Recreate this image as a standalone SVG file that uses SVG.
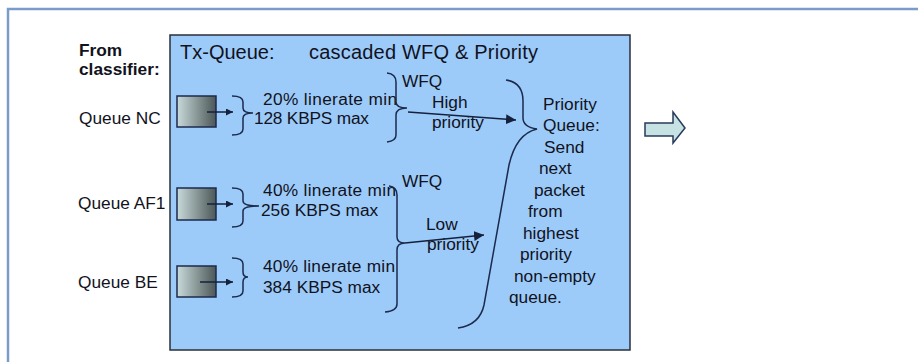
<svg xmlns="http://www.w3.org/2000/svg" width="918" height="362" viewBox="0 0 918 362">
<style>
text{font-family:"Liberation Sans",Arial,sans-serif;font-size:17.3px;fill:#12121c}
.title{font-size:20px}
.bold{font-weight:bold}
.br{fill:none;stroke:#1c2a4c;stroke-width:1.5}
.qbox{fill:url(#qg);stroke:#1c2a4c;stroke-width:1.5}
.ar{stroke:#15203c;stroke-width:1.5;fill:none}
</style>
<defs>
<linearGradient id="qg" x1="0" y1="0" x2="1" y2="0">
<stop offset="0" stop-color="#c9dada"/>
<stop offset="1" stop-color="#4c5757"/>
</linearGradient>
<marker id="ah" viewBox="0 0 10 10" refX="10" refY="5" markerWidth="7" markerHeight="7" markerUnits="userSpaceOnUse" orient="auto">
<path d="M0,0 L10,5 L0,10 z" fill="#15203c"/>
</marker>
<marker id="ah2" viewBox="0 0 10 10" refX="10" refY="5" markerWidth="10" markerHeight="10" markerUnits="userSpaceOnUse" orient="auto">
<path d="M0,0 L10,5 L0,10 z" fill="#15203c"/>
</marker>
</defs>
<rect x="0" y="0" width="918" height="362" fill="#ffffff"/>
<path d="M8,380 L8,9 L930,9" fill="none" stroke="#7b9cc8" stroke-width="2.5"/>
<g id="txqueue">
<rect x="170" y="35" width="460" height="315" fill="#9ccbfa" stroke="#2a2f3a" stroke-width="1.5"/>
<text class="title" x="180" y="59">Tx-Queue:</text>
<text class="title" x="309" y="59" textLength="229">cascaded WFQ &amp; Priority</text>
</g>
<g id="from">
<text class="bold" x="79" y="56">From</text>
<text class="bold" x="79" y="75">classifier:</text>
</g>
<g id="queue-nc">
<text x="79" y="124">Queue NC</text>
<rect class="qbox" x="177" y="96" width="39" height="31"/>
</g>
<g id="queue-af1">
<text x="78" y="209">Queue AF1</text>
<rect class="qbox" x="177" y="188" width="39" height="32"/>
</g>
<g id="queue-be">
<text x="78" y="288">Queue BE</text>
<rect class="qbox" x="177" y="266" width="39" height="31"/>
</g>
<g id="rate-nc">
<path class="br" d="M232,96 Q243,96 243,102 L243,108 Q243,113 253,113 Q243,113 243,118 L243,129 Q243,135 232,135"/>
<text x="263" y="105" textLength="134">20% linerate min</text>
<text x="254" y="124" textLength="115">128 KBPS max</text>
</g>
<g id="rate-af1">
<path class="br" d="M232,188 Q243,188 243,194 L243,201 Q243,206 259,206 Q243,206 243,211 L243,221 Q243,227 232,227"/>
<text x="263" y="196" textLength="133">40% linerate min</text>
<text x="261" y="216">256 KBPS max</text>
</g>
<g id="rate-be">
<path class="br" d="M232,258 Q243,258 243,264 L243,272 Q243,277 248,277 Q243,277 243,282 L243,291 Q243,297 232,297"/>
<text x="263" y="272" textLength="132">40% linerate min</text>
<text x="263" y="293">384 KBPS max</text>
</g>
<g id="wfq-high">
<path class="br" d="M387,73 Q396,74 396,82 L396,102 Q396,108 407,108 Q396,108 396,115 L396,135 Q396,141 387,142"/>
<text x="402" y="87">WFQ</text>
<text x="432" y="108">High</text>
<text x="432" y="128">priority</text>
</g>
<g id="wfq-low">
<path class="br" d="M389,186 Q397,187 397,195 L397,237 Q397,243 405,243 Q397,243 397,250 L397,304 Q397,311 385,312"/>
<text x="402" y="187">WFQ</text>
<text x="426" y="230">Low</text>
<text x="427" y="250">priority</text>
</g>
<g id="priority-queue">
<path class="br" d="M506,80 C519,82 523,91 523,101 L523,118 C523,125 530,128 537,129 C524,132 514,143 509,165 L484,305 C481,319 472,326 458,328"/>
<text x="543" y="110">Priority</text>
<text x="543" y="131">Queue:</text>
<text x="544" y="153">Send</text>
<text x="539" y="174">next</text>
<text x="534" y="196">packet</text>
<text x="528" y="217">from</text>
<text x="523" y="239">highest</text>
<text x="520" y="260">priority</text>
<text x="514" y="282">non-empty</text>
<text x="509" y="303">queue.</text>
</g>
<g id="output">
<path d="M645,123 L673,123 L673,112 L685,128 L673,143 L673,136 L645,136 z" fill="#c6e2e2" stroke="#2a3a5a" stroke-width="1.5"/>
</g>
<g id="connectors">
<line class="ar" x1="207" y1="112" x2="233" y2="112" marker-end="url(#ah)"/>
<line class="ar" x1="207" y1="204" x2="233" y2="204" marker-end="url(#ah)"/>
<line class="ar" x1="200" y1="282" x2="233" y2="282" marker-end="url(#ah)"/>
<line class="ar" x1="408" y1="112" x2="516" y2="120" marker-end="url(#ah2)"/>
<line class="ar" x1="405" y1="243" x2="484" y2="235" marker-end="url(#ah2)"/>
</g>
</svg>
